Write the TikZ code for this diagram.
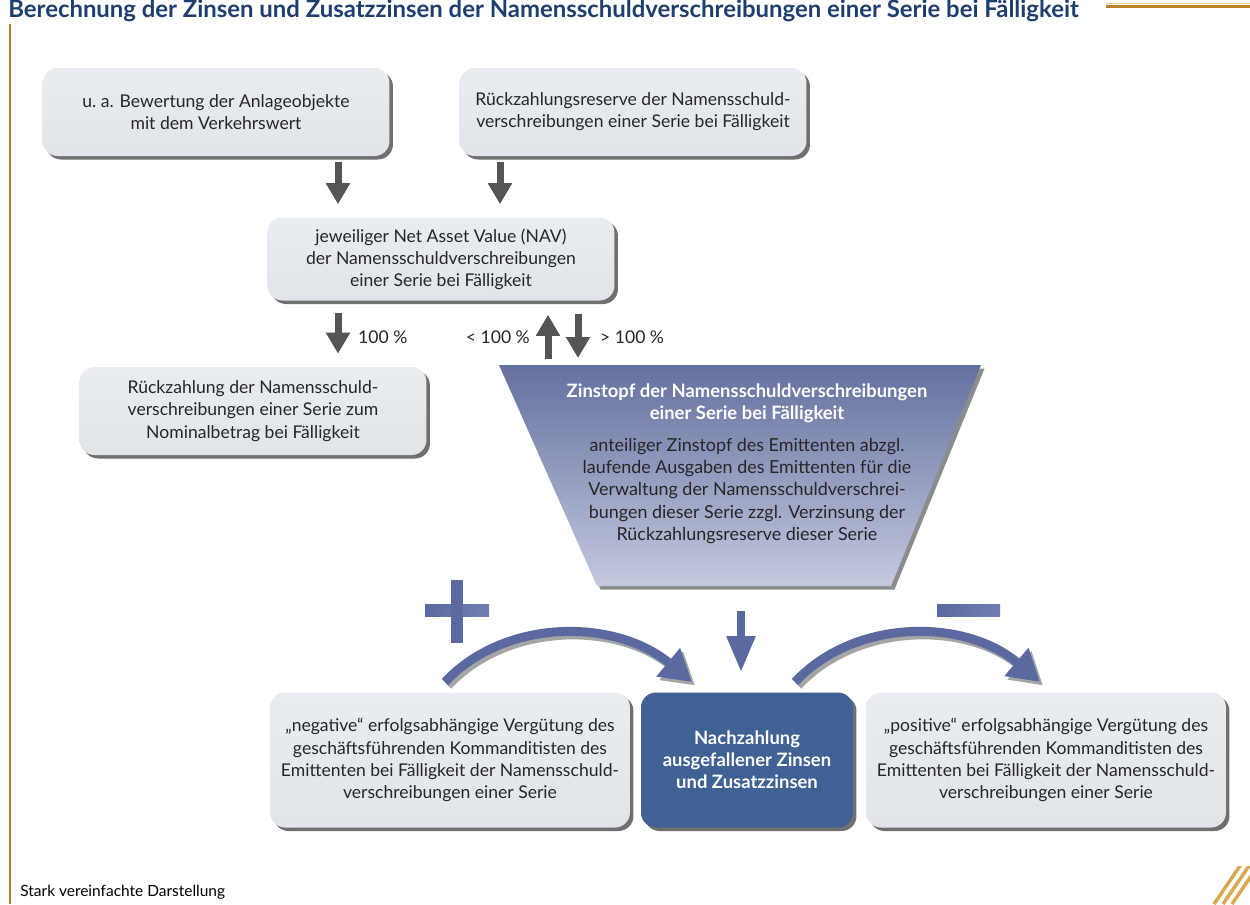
\documentclass[tikz,border=0pt]{standalone}
\usepackage{fontspec}
\setmainfont{Lato}
\usetikzlibrary{arrows.meta,shadows,positioning}

\definecolor{boxgray}{HTML}{E9ECF0}
\definecolor{boxgraydark}{HTML}{E1E4E9}
\definecolor{nachblue}{HTML}{3F6194}
\definecolor{titleblue}{HTML}{1E3E6F}
\definecolor{arrgray}{HTML}{555555}
\definecolor{potblue}{HTML}{5A6AA0}
\definecolor{potlight}{HTML}{6F7EB2}
\definecolor{traptop}{HTML}{64709F}
\definecolor{trapbot}{HTML}{C4C9DF}
\definecolor{gold}{HTML}{B5822B}
\definecolor{goldlight}{HTML}{E0B45A}

\tikzset{
  boxtext/.style={font=\fontsize{10}{12.6}\selectfont, align=center, text=black!85},
  infobox/.style={boxtext, rounded corners=0.3cm, top color=boxgray, bottom color=boxgraydark,
    drop shadow={shadow xshift=0.07cm, shadow yshift=-0.07cm, opacity=0.75, fill=black!75},
    inner sep=0pt, minimum width=6.94cm, minimum height=1.76cm},
  widebox/.style={infobox, minimum width=7.2cm, minimum height=2.7cm},
  bluebox/.style={widebox, top color=nachblue, bottom color=nachblue, text=white,
    font=\bfseries\fontsize{10.5}{12.6}\selectfont, minimum width=4.24cm},
  darrow/.style={draw=arrgray, line width=0.14cm, -{Triangle[length=0.42cm,width=0.46cm]}},
  barrow/.style={draw=potblue, line width=0.18cm, -{Triangle[length=0.62cm,width=0.7cm]}},
  bshadow/.style={draw=black!70, opacity=0.5, line width=0.18cm, -{Triangle[length=0.62cm,width=0.7cm]},
    transform canvas={xshift=0.06cm,yshift=-0.07cm}},
  pctlabel/.style={font=\fontsize{10}{12}\selectfont, text=black!85}
}

\begin{document}
\begin{tikzpicture}[x=0.02cm, y=-0.02cm]
  \useasboundingbox (0,0) rectangle (1250,904);

  \draw[gold, line width=0.06cm] (10,24) -- (10,904);
  \draw[goldlight!70!white, line width=0.02cm] (1106,3.5) -- (1250,3.5);
  \draw[gold, line width=0.06cm] (1106,6) -- (1250,6);
  \node[anchor=base west, inner sep=0pt, text=titleblue, font=\bfseries\fontsize{13.6}{15}\selectfont] (title) at (8,17)
    {Berechnung der Zinsen und Zusatzzinsen der Namensschuldverschreibungen einer Serie bei Fälligkeit};

  \node[infobox] (bewertung) at (216,112) {u.~a. Bewertung der Anlageobjekte\\mit dem Verkehrswert};
  \node[infobox] (reserve) at (633,112) {Rückzahlungsreserve der Namensschuld-\\verschreibungen einer Serie bei Fälligkeit};
  \node[infobox, minimum height=1.66cm] (nav) at (441,259)
    {jeweiliger Net Asset Value (NAV)\\der Namensschuldverschreibungen\\einer Serie bei Fälligkeit};
  \node[infobox] (rueck) at (253,411)
    {Rückzahlung der Namensschuld-\\verschreibungen einer Serie zum\\Nominalbetrag bei Fälligkeit};

  \coordinate (tl) at (499,365);
  \coordinate (tr) at (981,365);
  \coordinate (br) at (891,586);
  \coordinate (bl) at (597,586);
  \path[top color=traptop, bottom color=trapbot,
    drop shadow={shadow xshift=0.07cm, shadow yshift=-0.07cm, opacity=0.6, fill=black!75}]
    (tl) -- (tr) -- (br) -- (bl) -- cycle;
  \node[boxtext, text=white, font=\bfseries\fontsize{10.5}{12.6}\selectfont] (zinstopf) at (747,403)
    {Zinstopf der Namensschuldverschreibungen\\einer Serie bei Fälligkeit};
  \node[boxtext, font=\fontsize{10.2}{12.6}\selectfont] (zinstext) at (747,491)
    {anteiliger Zinstopf des Emittenten abzgl.\\laufende Ausgaben des Emittenten für die\\Verwaltung der Namensschuldverschrei-\\bungen dieser Serie zzgl. Verzinsung der\\Rückzahlungsreserve dieser Serie};

  \node[widebox] (negativ) at (450,760)
    {„negative“ erfolgsabhängige Vergütung des\\geschäftsführenden Kommanditisten des\\Emittenten bei Fälligkeit der Namensschuld-\\verschreibungen einer Serie};
  \node[bluebox] (nachzahlung) at (747,760) {Nachzahlung\\ausgefallener Zinsen\\und Zusatzzinsen};
  \node[widebox] (positiv) at (1046,760)
    {„positive“ erfolgsabhängige Vergütung des\\geschäftsführenden Kommanditisten des\\Emittenten bei Fälligkeit der Namensschuld-\\verschreibungen einer Serie};

  \coordinate (a1) at (338,0);
  \coordinate (a2) at (500,0);
  \coordinate (a3) at (548,0);
  \coordinate (a4) at (578,0);
  \draw[darrow, shorten <=0.12cm, shorten >=0.26cm] (a1 |- bewertung.south) -- (a1 |- nav.north);
  \draw[darrow, shorten <=0.12cm, shorten >=0.26cm] (a2 |- reserve.south) -- (a2 |- nav.north);
  \draw[darrow, shorten <=0.24cm, shorten >=0.26cm] (a1 |- nav.south) -- (a1 |- rueck.north);
  \draw[darrow, shorten <=0.12cm, shorten >=0.28cm] (a3 |- tl) -- (a3 |- nav.south);
  \draw[darrow, shorten <=0.26cm, shorten >=0.14cm] (a4 |- nav.south) -- (a4 |- tl);
  \node[pctlabel, anchor=west] (p100) at (352,337) {100 \%};
  \node[pctlabel, anchor=east] (pless) at (536,337) {< 100 \%};
  \node[pctlabel, anchor=west] (pmore) at (594,337) {> 100 \%};

  \fill[left color=potblue, right color=potlight] (425,604) rectangle (489,616);
  \fill[potblue] (451,580) rectangle (463,643);
  \fill[left color=potblue, right color=potlight] (937,604) rectangle (1000,616);

  \coordinate (pl1) at (445,682);
  \coordinate (pl2) at (692,682);
  \coordinate (mi1) at (795,682);
  \coordinate (mi2) at (1040,682);
  \draw[bshadow] (pl1) .. controls (505,618) and (615,618) .. (pl2);
  \draw[barrow] (pl1) .. controls (505,618) and (615,618) .. (pl2);
  \draw[bshadow] (mi1) .. controls (855,618) and (965,618) .. (mi2);
  \draw[barrow] (mi1) .. controls (855,618) and (965,618) .. (mi2);
  \coordinate (a5) at (741,0);
  \draw[barrow, line width=0.16cm, -{Triangle[length=0.72cm,width=0.54cm]}, shorten <=0.5cm, shorten >=0.4cm]
    (a5 |- bl) -- (a5 |- nachzahlung.north);

  \node[anchor=base west, inner sep=0pt, font=\fontsize{8.8}{10}\selectfont] (hinweis) at (20,896)
    {Stark vereinfachte Darstellung};
  \begin{scope}
    \clip (1205,866) rectangle (1250,904);
    \foreach \i in {0,1,2}
      \draw[goldlight!80!gold, line width=0.07cm] (1214+9*\i,904) -- ++(30,-44);
  \end{scope}
\end{tikzpicture}
\end{document}
